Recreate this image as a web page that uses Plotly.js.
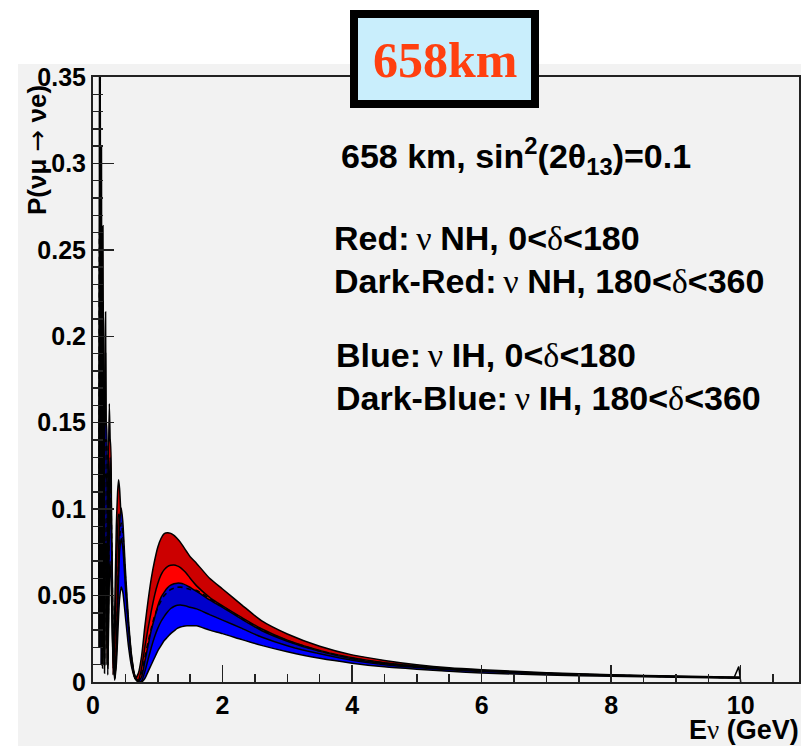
<!DOCTYPE html>
<html>
<head>
<meta charset="utf-8">
<script src="https://cdn.plot.ly/plotly-3.0.1.min.js"></script>
<style>html,body{margin:0;padding:0;background:#fff;}#chart{width:801px;height:746px;}</style>
</head>
<body>
<div id="chart"></div>
<script>
// Neutrino energy grid (GeV)
var energy = [0.095,0.100,0.106,0.113,0.120,0.125,0.131,0.137,0.142,0.148,0.154,0.162,0.170,0.178,0.186,0.194,0.205,0.215,0.228,0.240,0.252,0.265,0.285,0.31,0.335,0.36,0.38,0.395,0.41,0.435,0.46,0.50,0.55,0.60,0.65,0.70,
  0.75,0.8,0.85,0.9,0.95,1.0,1.05,1.1,1.15,1.2,1.25,1.3,1.35,1.4,1.45,1.5,
  1.6,1.8,2.0,2.3,2.6,3.0,3.5,4.0,4.5,5.0,5.5,6.0,7,8,9,10];

// NH upper edge (dark red top)
var nhTop = [0.02,0.36,0.05,0.36,0.02,0.15,0.31,0.12,0.01,0.17,0.264,0.14,0.01,0.10,0.20,0.214,0.10,0.01,0.06,0.13,0.161,0.14,0.07,0.004,0.04,0.09,0.11,0.117,0.112,0.094,0.074,0.048,0.026,0.011,0.002,0.005,
  0.015,0.032,0.047,0.060,0.070,0.078,0.083,0.0858,0.0864,0.0860,0.0848,0.0830,0.0808,0.0780,0.0752,0.0725,
  0.0686,0.0600,0.0538,0.0445,0.0355,0.0278,0.0207,0.0157,0.0125,0.0100,0.0082,0.0071,0.0054,0.0042,0.0034,0.0028];

// NH inner line (dark red / red boundary)
var nhMid = [0.03,0.33,0.10,0.33,0.08,0.05,0.25,0.18,0.02,0.10,0.22,0.17,0.03,0.06,0.16,0.19,0.12,0.02,0.03,0.10,0.14,0.14,0.08,0.008,0.02,0.065,0.088,0.097,0.096,0.085,0.068,0.045,0.024,0.010,0.002,0.001,
  0.008,0.020,0.031,0.041,0.050,0.057,0.062,0.065,0.0668,0.0675,0.0677,0.0672,0.0662,0.0645,0.0625,0.0600,
  0.0556,0.0490,0.0440,0.0372,0.0308,0.0242,0.0183,0.0141,0.0112,0.0092,0.0077,0.0066,0.0051,0.0040,0.0032,0.0026];

// IH upper edge (dark blue top)
var ihTop = [0.05,0.28,0.20,0.30,0.12,0.03,0.14,0.22,0.10,0.02,0.13,0.19,0.09,0.01,0.08,0.15,0.15,0.08,0.01,0.06,0.11,0.13,0.10,0.03,0.002,0.02,0.05,0.075,0.092,0.1007,0.093,0.065,0.035,0.014,0.003,0.0005,
  0.003,0.012,0.021,0.030,0.037,0.044,0.049,0.052,0.0545,0.0560,0.0568,0.0572,0.0571,0.0566,0.0558,0.0547,
  0.0525,0.0475,0.0432,0.0362,0.0298,0.0236,0.0177,0.0135,0.0107,0.0088,0.0074,0.0064,0.0049,0.0038,0.0031,0.0025];

// IH inner line (dark blue / blue boundary)
var ihMid = [0.04,0.24,0.16,0.25,0.10,0.02,0.11,0.18,0.08,0.015,0.10,0.15,0.07,0.01,0.06,0.12,0.12,0.06,0.008,0.045,0.09,0.105,0.08,0.025,0.002,0.015,0.04,0.06,0.075,0.083,0.078,0.055,0.030,0.012,0.003,0.0,
  0.0005,0.006,0.013,0.020,0.026,0.031,0.035,0.038,0.0405,0.0425,0.0437,0.0444,0.0446,0.0443,0.0438,0.0432,
  0.0423,0.0390,0.0358,0.0310,0.0260,0.0210,0.0163,0.0126,0.0100,0.0084,0.0071,0.0061,0.0047,0.0037,0.0030,0.0024];

// IH lower edge (blue bottom)
var ihLow = [0.02,0.15,0.10,0.17,0.07,0.01,0.07,0.12,0.05,0.008,0.06,0.10,0.04,0.005,0.04,0.08,0.08,0.04,0.004,0.03,0.06,0.07,0.05,0.015,0.001,0.01,0.025,0.038,0.048,0.055,0.052,0.038,0.020,0.008,0.002,0.0,
  0.0,0.002,0.006,0.010,0.014,0.018,0.021,0.024,0.026,0.028,0.0295,0.031,0.0318,0.0323,0.0325,0.0326,
  0.0325,0.0300,0.0280,0.0245,0.0212,0.0175,0.0137,0.0109,0.0088,0.0074,0.0062,0.0052,0.0041,0.0033,0.0027,0.0022];

// dashed curve
var dashed = [0.04,0.26,0.18,0.28,0.11,0.025,0.13,0.20,0.09,0.018,0.12,0.17,0.08,0.01,0.07,0.14,0.14,0.07,0.01,0.055,0.10,0.12,0.09,0.028,0.002,0.018,0.045,0.068,0.083,0.092,0.086,0.060,0.032,0.013,0.003,0.0005,
  0.005,0.014,0.023,0.031,0.038,0.043,0.047,0.050,0.052,0.0535,0.0543,0.0548,0.0549,0.0546,0.0541,0.0535,
  0.0530,0.0482,0.0437,0.0367,0.0303,0.0239,0.0180,0.0138,0.0110,0.0090,0.0075,0.0065,0.0050,0.0039,0.0031,0.0025];

// closing spike at the end of the graph
var endE = [9.9, 9.97, 10.0];
var endP = [0.0027, 0.0089, 0.0];

var xTicks = [0,2,4,6,8,10];

var lineStyle = {color:'#000', width:1.5, shape:'spline', smoothing:0.6};
var traces = [
  {x:energy, y:nhTop, mode:'lines', line:lineStyle, hoverinfo:'skip'},
  {x:energy, y:nhMid, mode:'lines', line:lineStyle, fill:'tonexty', fillcolor:'#cc0000', hoverinfo:'skip'},
  {x:energy, y:ihTop, mode:'lines', line:lineStyle, fill:'tonexty', fillcolor:'#ff0000', hoverinfo:'skip'},
  {x:energy, y:ihMid, mode:'lines', line:lineStyle, fill:'tonexty', fillcolor:'#0000cc', hoverinfo:'skip'},
  {x:energy, y:ihLow, mode:'lines', line:lineStyle, fill:'tonexty', fillcolor:'#0000ff', hoverinfo:'skip'},
  {x:energy, y:dashed, mode:'lines', line:{color:'#000', width:1.6, dash:'5px,4px', shape:'spline', smoothing:0.6}, hoverinfo:'skip'},
  {x:endE, y:endP, mode:'lines', line:{color:'#000', width:1.5}, hoverinfo:'skip'}
];

var L = 93, R = 799, T = 77, B = 682;
function px(x){ return (x - L)/(R - L); }
function py(y){ return (B - y)/(B - T); }

var serifSpan = function(s){ return '<span style="font-family:\'Liberation Serif\',serif;font-weight:normal">' + s + '</span>'; };
var annFont = {family:'Liberation Sans, Arial, sans-serif', size:34, color:'#000'};

var layout = {
  width:801, height:746,
  margin:{l:L, r:801-R, t:T, b:746-B, pad:0},
  paper_bgcolor:'#ffffff',
  plot_bgcolor:'rgba(0,0,0,0)',
  showlegend:false,
  xaxis:{
    range:[0,10.9], tickvals:xTicks, ticks:'inside', ticklen:17, tickwidth:1.5, tickcolor:'#222',
    minor:{dtick:0.5, ticks:'inside', ticklen:8, tickwidth:1.5, tickcolor:'#222'},
    showline:true, linecolor:'#222', linewidth:2, mirror:true, showgrid:false, zeroline:false,
    tickfont:{family:'Liberation Sans, Arial, sans-serif', size:25, color:'#000', weight:'bold'}
  },
  yaxis:{
    range:[0,0.35], dtick:0.05, tick0:0, ticks:'inside', ticklen:21, tickwidth:1.5, tickcolor:'#222',
    minor:{dtick:0.01, ticks:'inside', ticklen:10, tickwidth:1.5, tickcolor:'#222'},
    showline:true, linecolor:'#222', linewidth:2, mirror:true, showgrid:false, zeroline:false,
    tickfont:{family:'Liberation Sans, Arial, sans-serif', size:25, color:'#000', weight:'bold'}
  },
  shapes:[
    {type:'rect', xref:'paper', yref:'paper', layer:'below', x0:px(18), x1:px(805), y0:py(750), y1:py(64), fillcolor:'#f2f2f2', line:{width:0}},
    {type:'rect', xref:'paper', yref:'paper', layer:'above', x0:px(354), x1:px(535), y0:py(104), y1:py(14), fillcolor:'#c9eefc', line:{color:'#000', width:8}}
  ],
  annotations:[
    {xref:'paper', yref:'paper', x:px(444.5), y:py(60), xanchor:'center', yanchor:'middle', showarrow:false,
     text:'<b>658km</b>', font:{family:'Liberation Serif, Times New Roman, serif', size:50, color:'#ff4010'}},
    {xref:'paper', yref:'paper', x:px(339), y:py(156), xanchor:'left', yanchor:'middle', showarrow:false,
     text:'<b>658 km, sin<sup>2</sup>(2θ<sub>13</sub>)=0.1</b>', font:annFont},
    {xref:'paper', yref:'paper', x:px(332), y:py(238), xanchor:'left', yanchor:'middle', showarrow:false,
     text:'<b>Red:</b>'+serifSpan('\u2009ν ')+'<b>NH, 0&lt;</b>'+serifSpan('δ')+'<b>&lt;180</b>', font:annFont},
    {xref:'paper', yref:'paper', x:px(332), y:py(281), xanchor:'left', yanchor:'middle', showarrow:false,
     text:'<b>Dark-Red:</b>'+serifSpan('\u2009ν ')+'<b>NH, 180&lt;</b>'+serifSpan('δ')+'<b>&lt;360</b>', font:annFont},
    {xref:'paper', yref:'paper', x:px(334), y:py(355), xanchor:'left', yanchor:'middle', showarrow:false,
     text:'<b>Blue:</b>'+serifSpan('\u2009ν ')+'<b>IH, 0&lt;</b>'+serifSpan('δ')+'<b>&lt;180</b>', font:annFont},
    {xref:'paper', yref:'paper', x:px(334), y:py(398), xanchor:'left', yanchor:'middle', showarrow:false,
     text:'<b>Dark-Blue:</b>'+serifSpan('\u2009ν ')+'<b>IH, 180&lt;</b>'+serifSpan('δ')+'<b>&lt;360</b>', font:annFont},
    {xref:'paper', yref:'paper', x:px(801), y:py(730), xanchor:'right', yanchor:'middle', showarrow:false,
     text:'<b>E</b>'+serifSpan('ν')+'<b> (GeV)</b>', font:{family:'Liberation Sans, Arial, sans-serif', size:27, color:'#000'}},
    {xref:'paper', yref:'paper', x:px(37), y:py(150), xanchor:'center', yanchor:'middle', showarrow:false, textangle:-90,
     text:'<b>P(νμ </b><span style="font-family:\'DejaVu Sans\',sans-serif;font-weight:normal">→</span><b> νe)</b>', font:{family:'Liberation Sans, Arial, sans-serif', size:26, color:'#000'}}
  ]
};

Plotly.newPlot('chart', traces, layout, {displayModeBar:false, staticPlot:true});
</script>
</body>
</html>
